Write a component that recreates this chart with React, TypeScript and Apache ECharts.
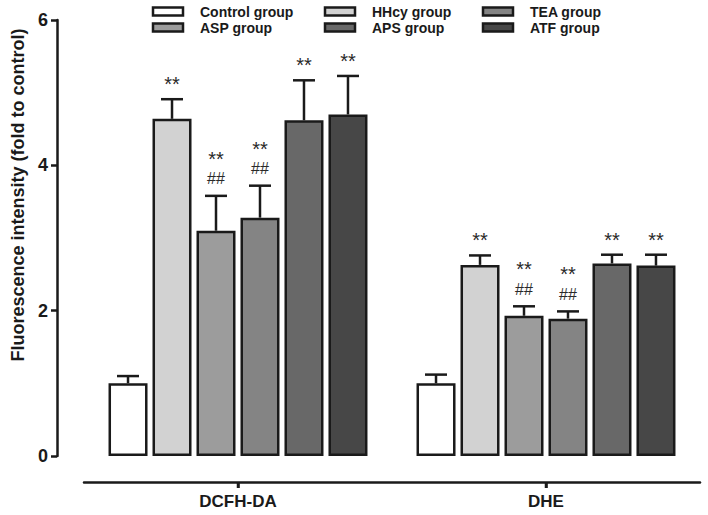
import React, { useEffect, useRef } from "react";
import * as echarts from "echarts";

const categories = ["DCFH-DA", "DHE"];
const groupNames = ["Control group", "HHcy group", "ASP group", "TEA group", "APS group", "ATF group"];
const groupColors = ["#ffffff", "#d2d2d2", "#9c9c9c", "#848484", "#686868", "#474747"];

const controlMean = [1.0, 1.0];
const controlErr = [0.1, 0.12];
const hhcyMean = [4.64, 2.63];
const hhcyErr = [0.27, 0.13];
const aspMean = [3.1, 1.93];
const aspErr = [0.48, 0.13];
const teaMean = [3.28, 1.89];
const teaErr = [0.44, 0.1];
const apsMean = [4.62, 2.65];
const apsErr = [0.55, 0.12];
const atfMean = [4.7, 2.62];
const atfErr = [0.53, 0.15];

const controlSig = ["", ""];
const hhcySig = ["**", "**"];
const aspSig = ["**", "**"];
const teaSig = ["**", "**"];
const apsSig = ["**", "**"];
const atfSig = ["**", "**"];

const controlHash = ["", ""];
const hhcyHash = ["", ""];
const aspHash = ["##", "##"];
const teaHash = ["##", "##"];
const apsHash = ["", ""];
const atfHash = ["", ""];

const yTicks = { min: 0, max: 6, interval: 2 };

const means = [controlMean, hhcyMean, aspMean, teaMean, apsMean, atfMean];
const errs = [controlErr, hhcyErr, aspErr, teaErr, apsErr, atfErr];
const sigs = [controlSig, hhcySig, aspSig, teaSig, apsSig, atfSig];
const hashes = [controlHash, hhcyHash, aspHash, teaHash, apsHash, atfHash];

const FONT = "'Liberation Sans', Arial, sans-serif";
const INK = "#1a1a1a";
const BAR_W = 39;
const BAR_GAP = 0.128;
const PITCH = BAR_W * (1 + BAR_GAP);
const X_OFFSET = 26;

const legendPos = [
  { left: 153, top: 4 },
  { left: 325, top: 4 },
  { left: 153, top: 20 },
  { left: 483, top: 4 },
  { left: 325, top: 20 },
  { left: 483, top: 20 },
];
const SW_W = 30;
const SW_H = 8;
const LEG_LINE = 15;

export default function App() {
  const ref = useRef<HTMLDivElement>(null);
  useEffect(() => {
    if (!ref.current) return;
    const chart = echarts.init(ref.current, null, { renderer: "svg" });

    const barSeries = groupNames.map((name, i) => ({
      name,
      type: "bar",
      barWidth: BAR_W,
      barGap: BAR_GAP * 100 + "%",
      data: means[i],
      itemStyle: { color: groupColors[i], borderColor: INK, borderWidth: 2.5 },
      z: 2,
    }));

    const errSeries = groupNames.map((name, i) => ({
      name: name + " err",
      type: "custom",
      z: 5,
      silent: true,
      clip: false,
      itemStyle: { color: INK },
      data: categories.map((_, k) => [k, means[i][k], errs[i][k]]),
      renderItem: (params: any, api: any) => {
        const k = params.dataIndex;
        const cat = api.value(0);
        const v = api.value(1);
        const e = api.value(2);
        const base = api.coord([cat, v]);
        const top = api.coord([cat, v + e]);
        const x = base[0] + (i - 2.5) * PITCH;
        const lineStyle = { stroke: INK, lineWidth: 2.5 };
        const children: any[] = [
          { type: "line", shape: { x1: x, y1: base[1], x2: x, y2: top[1] }, style: lineStyle },
          { type: "line", shape: { x1: x - 11, y1: top[1], x2: x + 11, y2: top[1] }, style: lineStyle },
        ];
        const hash = hashes[i][k];
        const sig = sigs[i][k];
        if (hash) {
          children.push({
            type: "text",
            style: {
              text: "{s|" + sig + "}\n{h|" + hash + "}",
              x, y: top[1] - 7, align: "center", verticalAlign: "bottom",
              rich: {
                s: { fontSize: 20, fontFamily: FONT, lineHeight: 20, fill: "#2a2a2a", align: "center" },
                h: { fontSize: 16, fontFamily: FONT, lineHeight: 20, fill: "#2a2a2a", align: "center" },
              },
            },
          });
        } else if (sig) {
          children.push({
            type: "text",
            style: {
              text: sig, x, y: top[1] - 15, align: "center", verticalAlign: "middle",
              font: "20px 'Liberation Sans', Arial, sans-serif", fill: "#2a2a2a",
            },
          });
        }
        return { type: "group", children };
      },
    }));

    const swatches = groupNames.map((_, i) => ({
      id: "sw" + i,
      type: "rect",
      z: 100,
      silent: true,
      shape: { x: legendPos[i].left, y: legendPos[i].top + (LEG_LINE - SW_H) / 2, width: SW_W, height: SW_H },
      style: { fill: groupColors[i], stroke: INK, lineWidth: 2.5 },
    }));

    const yTitle = {
      id: "ytitle",
      type: "text",
      x: 18,
      y: 195,
      rotation: Math.PI / 2,
      style: {
        text: "Fluorescence intensity (fold to control)",
        align: "center",
        verticalAlign: "middle",
        font: "bold 18px 'Liberation Sans', Arial, sans-serif",
        fill: INK,
      },
    };

    const option: any = {
      animation: false,
      backgroundColor: "#ffffff",
      legend: groupNames.map((name, i) => ({
        data: [name],
        left: legendPos[i].left,
        top: legendPos[i].top,
        padding: 0,
        itemWidth: SW_W,
        itemHeight: SW_H,
        icon: "rect",
        selectedMode: false,
        itemStyle: { color: groupColors[i], borderColor: INK, borderWidth: 2, opacity: 0 },
        textStyle: {
          fontFamily: FONT, fontWeight: "bold", fontSize: 14, lineHeight: LEG_LINE, color: INK,
          padding: [0, 0, 0, 11],
        },
      })),
      grid: { left: 84, right: 8, top: 20, bottom: 59 },
      xAxis: {
        type: "category",
        data: categories,
        offset: X_OFFSET,
        axisLine: { show: true, onZero: false, lineStyle: { color: INK, width: 2.5 } },
        axisTick: { show: true, interval: 0, alignWithLabel: true, length: 6, lineStyle: { color: INK, width: 2.5 } },
        axisLabel: { fontFamily: FONT, fontWeight: "bold", fontSize: 17, color: INK, margin: 11 },
      },
      yAxis: {
        type: "value",
        min: yTicks.min,
        max: yTicks.max,
        interval: yTicks.interval,
        offset: 27,
        axisLine: { show: true, lineStyle: { color: INK, width: 2.5 } },
        axisTick: { show: true, length: 6, lineStyle: { color: INK, width: 2.5 } },
        axisLabel: { fontFamily: FONT, fontWeight: "bold", fontSize: 18, color: INK, margin: 9 },
        splitLine: { show: false },
      },
      graphic: [yTitle, ...swatches],
      series: [...barSeries, ...errSeries],
    };
    chart.setOption(option);

    const ticks = categories.map((_, k) => {
      const p = chart.convertToPixel({ xAxisIndex: 0, yAxisIndex: 0 }, [k, 0]) as number[];
      const y0 = p[1] + X_OFFSET;
      return {
        id: "xt" + k,
        type: "line",
        z: 100,
        silent: true,
        shape: { x1: p[0], y1: y0, x2: p[0], y2: y0 + 6 },
        style: { stroke: INK, lineWidth: 2.5 },
      };
    });
    chart.setOption({ graphic: [yTitle, ...swatches, ...ticks] });

    return () => chart.dispose();
  }, []);
  return (
    <div
      ref={ref}
      style={{ position: "fixed", left: 0, top: 0, width: 708, height: 515, background: "#fff" }}
    />
  );
}
